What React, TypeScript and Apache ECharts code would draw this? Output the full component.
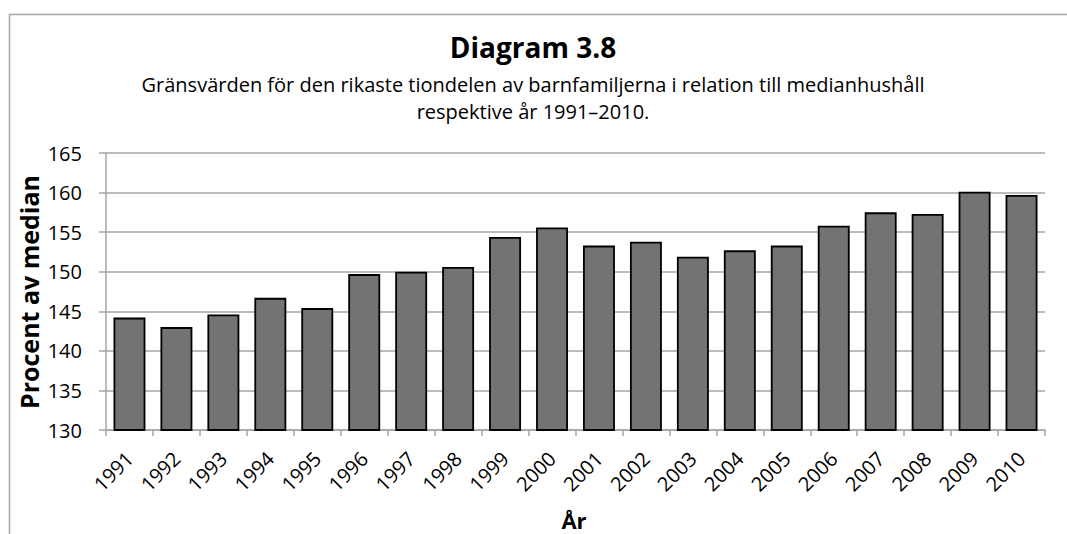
import React, { useEffect, useRef } from "react";
import * as echarts from "echarts";

const years = ["1991","1992","1993","1994","1995","1996","1997","1998","1999","2000","2001","2002","2003","2004","2005","2006","2007","2008","2009","2010"];
const values = [144.2, 143.0, 144.6, 146.7, 145.4, 149.7, 150.0, 150.6, 154.4, 155.6, 153.3, 153.8, 151.9, 152.7, 153.3, 155.8, 157.5, 157.3, 160.1, 159.7];
const yTicks = { min: 130, max: 165, interval: 5 };
const titleText = "Diagram 3.8";
const subtitleLines = [
  "Gränsvärden för den rikaste tiondelen av barnfamiljerna i relation till medianhushåll",
  "respektive år 1991–2010.",
];
const xName = "År";
const yName = "Procent av median";

const FONT = "'Open Sans', Lato, 'DejaVu Sans', sans-serif";

export default function App() {
  const ref = useRef<HTMLDivElement>(null);
  useEffect(() => {
    if (!ref.current) return;
    const chart = echarts.init(ref.current, null, { renderer: "svg" });
    chart.setOption({
      animation: false,
      backgroundColor: "#ffffff",
      textStyle: { fontFamily: FONT },
      graphic: [
        {
          type: "rect",
          shape: { x: 9.5, y: 14.5, width: 1100, height: 600 },
          style: { fill: "none", stroke: "#a6a6a6", lineWidth: 1.5 },
          silent: true,
        },
        {
          type: "text",
          x: 533,
          y: 47,
          style: {
            text: titleText,
            fontFamily: FONT,
            fontSize: 28,
            fontWeight: "bold",
            fill: "#000",
            align: "center",
            verticalAlign: "middle",
          },
        },
        {
          type: "text",
          x: 533,
          y: 84,
          style: {
            text: subtitleLines[0],
            fontFamily: FONT,
            fontSize: 20,
            fill: "#000",
            align: "center",
            verticalAlign: "middle",
          },
        },
        {
          type: "text",
          x: 533,
          y: 111,
          style: {
            text: subtitleLines[1],
            fontFamily: FONT,
            fontSize: 20,
            fill: "#000",
            align: "center",
            verticalAlign: "middle",
          },
        },
        {
          type: "text",
          x: 574,
          y: 531,
          style: {
            text: xName,
            fontFamily: FONT,
            fontSize: 22,
            fontWeight: "bold",
            fill: "#000",
            align: "center",
            verticalAlign: "bottom",
          },
        },
        {
          type: "text",
          x: 29,
          y: 292,
          rotation: Math.PI / 2,
          style: {
            text: yName,
            fontFamily: FONT,
            fontSize: 25,
            fontWeight: "bold",
            fill: "#000",
            align: "center",
            verticalAlign: "middle",
          },
        },
      ],
      grid: { left: 106, right: 22, top: 153, bottom: 104, containLabel: false },
      xAxis: {
        type: "category",
        data: years,
        axisLine: { show: true, lineStyle: { color: "#a6a6a6", width: 1.5 } },
        axisTick: { show: true, length: 6, lineStyle: { color: "#a6a6a6", width: 1.5 } },
        axisLabel: {
          rotate: 45,
          interval: 0,
          margin: 25,
          fontSize: 20,
          fontFamily: FONT,
          color: "#000",
        },
      },
      yAxis: {
        type: "value",
        min: yTicks.min,
        max: yTicks.max,
        interval: yTicks.interval,
        axisLine: { show: true, lineStyle: { color: "#a6a6a6", width: 1.5 } },
        axisTick: { show: true, length: 7, lineStyle: { color: "#a6a6a6", width: 1.5 } },
        axisLabel: { fontSize: 20, fontFamily: FONT, color: "#000", margin: 24 },
        splitLine: { show: true, lineStyle: { color: "#a6a6a6", width: 1.5 } },
      },
      series: [
        {
          type: "bar",
          data: values,
          barCategoryGap: "32%",
          itemStyle: { color: "#737373", borderColor: "#000", borderWidth: 1.8 },
        },
      ],
    });
    return () => chart.dispose();
  }, []);
  return (
    <div
      ref={ref}
      style={{ position: "fixed", left: 0, top: 0, width: 1067, height: 534 }}
    />
  );
}
